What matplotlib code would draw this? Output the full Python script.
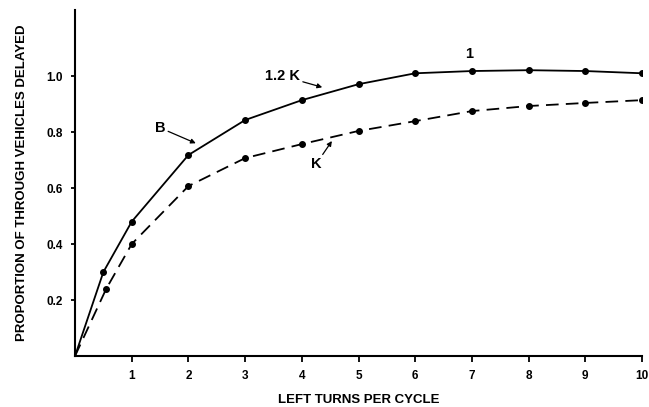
import matplotlib
matplotlib.use('Agg')
import matplotlib.pyplot as plt

# Left turns per cycle and proportion of through vehicles delayed
x_b = [0, 0.5, 1, 2, 3, 4, 5, 6, 7, 8, 9, 10]
y_b = [0, 0.30, 0.48, 0.718, 0.843, 0.914, 0.971, 1.01, 1.018, 1.021, 1.018, 1.01]
x_k = [0, 0.55, 1, 2, 3, 4, 5, 6, 7, 8, 9, 10]
y_k = [0, 0.24, 0.40, 0.607, 0.707, 0.757, 0.804, 0.839, 0.875, 0.893, 0.904, 0.914]

x_ticks = [1, 2, 3, 4, 5, 6, 7, 8, 9, 10]
y_ticks = [0.2, 0.4, 0.6, 0.8, 1.0]

plt.rcParams['font.family'] = ['Liberation Sans', 'DejaVu Sans']
plt.rcParams['font.weight'] = 'bold'

fig = plt.figure(figsize=(6.49, 4.07), dpi=100)
ax = fig.add_axes([0.1156, 0.1253, 0.8737, 0.8501])

# solid curve (B / 1.2 K)
ax.plot(x_b, y_b, color='black', lw=1.3)
ax.plot(x_b[1:], y_b[1:], 'o', color='black', ms=4)
# dashed curve (K)
ax.plot(x_k, y_k, color='black', lw=1.3, dashes=(7, 4))
ax.plot(x_k[1:], y_k[1:], 'o', color='black', ms=4)

ax.set_xlim(0, 10)
ax.set_ylim(0, 1.236)
ax.set_xticks(x_ticks)
ax.set_xticklabels([str(t) for t in x_ticks], fontsize=8.5, fontweight='bold')
ax.set_yticks(y_ticks)
ax.set_yticklabels(['%.1f' % t for t in y_ticks], fontsize=8.5, fontweight='bold')
ax.tick_params(axis='x', direction='out', length=4, width=1.3, pad=6)
ax.tick_params(axis='y', direction='out', length=3, width=1.3, pad=6)

for side in ['top', 'right']:
    ax.spines[side].set_visible(False)
for side in ['left', 'bottom']:
    ax.spines[side].set_linewidth(1.5)

ax.set_xlabel('LEFT TURNS PER CYCLE', fontsize=9.5, fontweight='bold', labelpad=9)
ax.set_ylabel('PROPORTION OF THROUGH VEHICLES DELAYED', fontsize=9.5,
              fontweight='bold', labelpad=13)

arrow = dict(arrowstyle='-|>', color='black', lw=0.9, mutation_scale=7,
             shrinkA=0, shrinkB=0)
ax.annotate('B', xy=(2.13, 0.76), xytext=(1.5, 0.815), fontsize=10.5,
            fontweight='bold', ha='center', va='center', arrowprops=arrow)
ax.annotate('1.2 K', xy=(4.36, 0.96), xytext=(3.66, 1.0), fontsize=10.5,
            fontweight='bold', ha='center', va='center', arrowprops=arrow)
ax.annotate('K', xy=(4.53, 0.768), xytext=(4.25, 0.685), fontsize=10.5,
            fontweight='bold', ha='center', va='center', arrowprops=arrow)
ax.text(6.95, 1.08, '1', fontsize=10.5, fontweight='bold', ha='center', va='center')

fig.savefig('out.png', dpi=100)
